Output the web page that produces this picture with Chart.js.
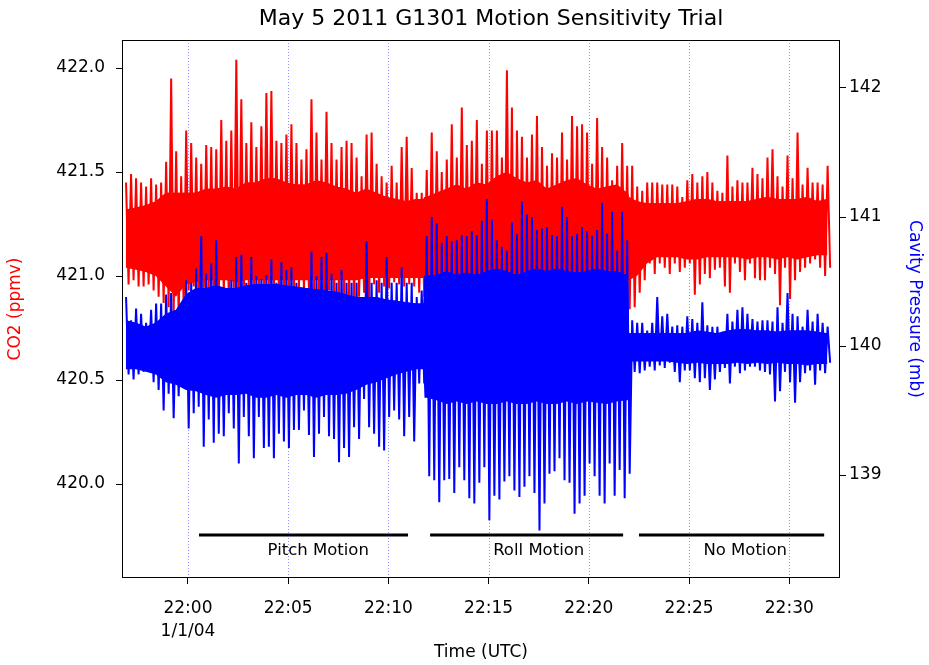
<!DOCTYPE html>
<html>
<head>
<meta charset="utf-8">
<script src="https://cdn.jsdelivr.net/npm/chart.js@4.4.1/dist/chart.umd.min.js"></script>
<style>
  html, body { margin: 0; padding: 0; background: #ffffff; }
  #wrap { width: 929px; height: 665px; }
</style>
</head>
<body>
<div id="wrap"><canvas id="c" width="929" height="665"></canvas></div>
<script>
// ---------- DATA ----------
// time in minutes after 22:00 UTC; one bin every 0.25 min, each bin holds the high and low excursion
const binStart = -3.15;
const binStep = 0.25;

const co2Hi = [
  421.45, 421.49, 421.47, 421.45, 421.43, 421.47, 421.44, 421.45, 421.55, 421.95, 421.60, 421.48,
  421.70, 421.64, 421.57, 421.54, 421.63, 421.62, 421.61, 421.75, 421.65, 421.70, 422.04, 421.85,
  421.64, 421.74, 421.62, 421.72, 421.88, 421.89, 421.65, 421.64, 421.68, 421.73, 421.64, 421.56,
  421.61, 421.85, 421.69, 421.56, 421.79, 421.64, 421.56, 421.62, 421.65, 421.64, 421.57, 421.48,
  421.68, 421.69, 421.54, 421.48, 421.45, 421.53, 421.45, 421.62, 421.67, 421.52, 421.40, 421.40,
  421.51, 421.69, 421.60, 421.50, 421.56, 421.73, 421.57, 421.81, 421.63, 421.65, 421.75, 421.54,
  421.70, 421.70, 421.70, 421.57, 421.99, 421.81, 421.70, 421.67, 421.57, 421.68, 421.77, 421.62,
  421.53, 421.59, 421.57, 421.69, 421.56, 421.77, 421.72, 421.73, 421.69, 421.54, 421.76, 421.62,
  421.57, 421.46, 421.53, 421.64, 421.53, 421.53, 421.43, 421.41, 421.45, 421.45, 421.45, 421.44,
  421.44, 421.44, 421.43, 421.38, 421.46, 421.49, 421.45, 421.48, 421.50, 421.45, 421.41, 421.40,
  421.58, 421.43, 421.46, 421.45, 421.45, 421.52, 421.49, 421.47, 421.57, 421.61, 421.48, 421.43,
  421.58, 421.47, 421.69, 421.44, 421.52, 421.45, 421.45, 421.44, 421.53
];
const co2Lo = [
  420.96, 420.98, 420.95, 420.95, 420.96, 420.93, 420.90, 420.87, 420.85, 420.82, 420.80, 420.84,
  420.93, 420.95, 420.92, 420.90, 420.93, 420.90, 420.88, 420.90, 420.88, 420.92, 420.90, 420.88,
  420.95, 420.90, 420.93, 420.92, 420.94, 420.90, 420.92, 420.93, 420.90, 420.92, 420.94, 420.92,
  420.92, 420.93, 420.92, 420.90, 420.93, 420.88, 420.90, 420.87, 420.89, 420.88, 420.90, 420.92,
  420.85, 420.96, 420.92, 420.95, 420.94, 420.97, 420.96, 420.95, 420.96, 420.95, 420.92, 420.90,
  420.90, 420.87, 420.92, 420.80, 420.90, 420.88, 420.90, 420.88, 420.90, 420.92, 420.72, 420.88,
  420.72, 420.85, 420.88, 420.90, 420.80, 420.55, 420.88, 420.90, 420.85, 420.90, 420.70, 420.88,
  420.90, 420.92, 420.88, 420.90, 420.92, 420.90, 420.88, 420.77, 420.90, 420.85, 420.88, 420.88,
  420.90, 420.90, 420.90, 420.90, 420.84, 420.85, 420.92, 420.98, 421.06, 421.01, 421.06, 421.04,
  421.01, 421.06, 421.02, 421.04, 421.06, 420.91, 420.96, 421.01, 420.99, 421.03, 421.04, 420.95,
  420.92, 421.06, 421.02, 420.98, 421.06, 420.99, 420.98, 420.98, 421.04, 421.01, 420.86, 421.04,
  420.89, 420.98, 421.02, 421.04, 421.06, 421.08, 421.04, 421.00, 421.04
];
const presHi = [
  140.38, 140.20, 140.29, 140.25, 140.18, 140.28, 140.33, 140.33, 140.40, 140.41, 140.28, 140.33,
  140.51, 140.49, 140.60, 140.85, 140.56, 140.64, 140.82, 140.43, 140.38, 140.51, 140.69, 140.71,
  140.49, 140.69, 140.54, 140.52, 140.55, 140.67, 140.49, 140.65, 140.59, 140.61, 140.49, 140.43,
  140.43, 140.73, 140.54, 140.69, 140.72, 140.56, 140.49, 140.59, 140.49, 140.49, 140.49, 140.38,
  140.81, 140.49, 140.51, 140.49, 140.69, 140.49, 140.49, 140.61, 140.49, 140.49, 140.38, 140.43,
  140.85, 141.00, 140.95, 140.80, 140.85, 140.81, 140.82, 140.86, 140.85, 140.89, 140.86, 140.97,
  141.14, 140.98, 140.82, 140.77, 140.74, 140.96, 140.87, 141.12, 141.02, 141.00, 140.90, 140.91,
  140.92, 140.86, 140.85, 141.08, 141.00, 140.85, 140.87, 140.92, 140.89, 140.85, 140.90, 141.11,
  140.87, 141.04, 140.74, 141.04, 140.82, 140.20, 140.18, 140.18, 140.12, 140.18, 140.38, 140.23,
  140.25, 140.15, 140.16, 140.15, 140.23, 140.21, 140.18, 140.34, 140.16, 140.15, 140.15, 140.11,
  140.25, 140.19, 140.28, 140.30, 140.25, 140.21, 140.19, 140.20, 140.20, 140.19, 140.30, 140.18,
  140.41, 140.25, 140.23, 140.15, 140.28, 140.19, 140.25, 140.18, 140.15
];
const presLo = [
  139.78, 139.74, 139.78, 139.80, 139.85, 139.72, 139.66, 139.50, 139.63, 139.44, 139.61, 139.68,
  139.36, 139.48, 139.53, 139.22, 139.43, 139.25, 139.32, 139.30, 139.48, 139.36, 139.09, 139.45,
  139.30, 139.13, 139.45, 139.21, 139.22, 139.13, 139.32, 139.26, 139.21, 139.35, 139.35, 139.50,
  139.31, 139.14, 139.32, 139.45, 139.30, 139.28, 139.10, 139.21, 139.14, 139.37, 139.28, 139.59,
  139.37, 139.32, 139.22, 139.19, 139.45, 139.50, 139.43, 139.30, 139.45, 139.26, 139.71, 139.71,
  138.99, 138.96, 138.79, 138.96, 138.97, 138.86, 139.06, 138.96, 138.82, 138.78, 138.94, 139.06,
  138.65, 138.84, 138.81, 138.95, 138.99, 138.88, 138.83, 138.91, 138.99, 138.86, 138.57, 138.78,
  139.01, 139.03, 139.13, 138.96, 138.94, 138.70, 138.78, 138.84, 139.09, 138.99, 138.84, 138.78,
  139.09, 138.84, 139.04, 138.82, 139.01, 139.80, 139.79, 139.81, 139.84, 139.81, 139.85, 139.83,
  139.87, 139.80, 139.72, 139.81, 139.81, 139.75, 139.72, 139.75, 139.66, 139.74, 139.80, 139.83,
  139.71, 139.84, 139.79, 139.81, 139.84, 139.84, 139.81, 139.80, 139.78, 139.57, 139.65, 139.80,
  139.72, 139.56, 139.72, 139.79, 139.81, 139.70, 139.81, 139.79, 139.87
];

// dense core of each trace (where the trace looks solid), read at these times
const coreTimes = [
  -3.1, -2.6, -2.1, -1.6, -1.1, -0.6,
  -0.1, 0.4, 0.9, 1.4, 1.9, 2.4,
  2.9, 3.4, 3.9, 4.4, 4.9, 5.4,
  5.9, 6.4, 6.9, 7.4, 7.9, 8.4,
  8.9, 9.4, 9.9, 10.4, 10.9, 11.4, 11.75, 11.8,
  11.9, 12.4, 12.9, 13.4, 13.9, 14.4,
  14.9, 15.4, 15.9, 16.4, 16.9, 17.4,
  17.9, 18.4, 18.9, 19.4, 19.9, 20.4,
  20.9, 21.4, 21.9, 21.95, 22.0, 22.4, 22.9, 23.4,
  23.9, 24.4, 24.9, 25.4, 25.9, 26.4,
  26.9, 27.4, 27.9, 28.4, 28.9, 29.4,
  29.9, 30.4, 30.9, 31.4, 31.9
];
const co2CoreHi = [
  421.32, 421.33, 421.34, 421.36, 421.40, 421.40,
  421.40, 421.40, 421.42, 421.42, 421.43, 421.42,
  421.45, 421.45, 421.47, 421.47, 421.45, 421.44,
  421.44, 421.46, 421.45, 421.43, 421.42, 421.40,
  421.42, 421.40, 421.38, 421.37, 421.36, 421.37, 421.37, 421.38,
  421.38, 421.40, 421.42, 421.44, 421.42, 421.45,
  421.44, 421.48, 421.50, 421.47, 421.45, 421.46,
  421.42, 421.44, 421.46, 421.47, 421.44, 421.42,
  421.43, 421.44, 421.40, 421.40, 421.38, 421.36, 421.35, 421.35,
  421.35, 421.35, 421.36, 421.37, 421.37, 421.36,
  421.36, 421.36, 421.36, 421.37, 421.38, 421.37,
  421.37, 421.37, 421.38, 421.36, 421.37
];
const co2CoreLo = [
  421.04, 421.03, 421.02, 421.00, 420.95, 420.90,
  420.96, 420.97, 420.98, 420.98, 420.98, 420.97,
  420.98, 420.98, 420.98, 420.98, 420.98, 420.98,
  420.98, 420.98, 420.98, 420.98, 420.98, 420.98,
  420.99, 420.99, 420.99, 420.99, 420.99, 420.99, 420.99, 420.98,
  420.98, 420.98, 420.98, 420.98, 420.98, 420.98,
  420.98, 420.98, 420.98, 420.98, 420.98, 420.98,
  420.98, 420.98, 420.98, 420.98, 420.98, 420.98,
  420.98, 420.98, 420.98, 420.98, 420.98, 421.00, 421.06, 421.09,
  421.09, 421.09, 421.08, 421.08, 421.09, 421.09,
  421.09, 421.09, 421.08, 421.09, 421.09, 421.08,
  421.09, 421.08, 421.09, 421.10, 421.10
];
const presCoreHi = [
  140.20, 140.18, 140.15, 140.18, 140.25, 140.28,
  140.40, 140.45, 140.45, 140.47, 140.45, 140.45,
  140.47, 140.48, 140.48, 140.48, 140.47, 140.46,
  140.45, 140.44, 140.43, 140.42, 140.40, 140.38,
  140.38, 140.38, 140.36, 140.35, 140.34, 140.33, 140.33, 140.55,
  140.55, 140.55, 140.58, 140.55, 140.57, 140.55,
  140.58, 140.60, 140.58, 140.55, 140.58, 140.60,
  140.58, 140.60, 140.58, 140.57, 140.58, 140.60,
  140.58, 140.58, 140.55, 140.55, 140.10, 140.10, 140.10, 140.10,
  140.10, 140.10, 140.10, 140.12, 140.11, 140.10,
  140.12, 140.13, 140.13, 140.12, 140.12, 140.11,
  140.12, 140.12, 140.12, 140.11, 140.10
];
const presCoreLo = [
  139.82, 139.82, 139.80, 139.78, 139.72, 139.70,
  139.66, 139.65, 139.62, 139.60, 139.62, 139.62,
  139.63, 139.60, 139.60, 139.62, 139.60, 139.62,
  139.62, 139.60, 139.62, 139.62, 139.63, 139.66,
  139.70, 139.72, 139.75, 139.78, 139.80, 139.82, 139.82, 139.60,
  139.60, 139.58, 139.55, 139.57, 139.55, 139.57,
  139.55, 139.55, 139.57, 139.55, 139.55, 139.57,
  139.55, 139.55, 139.57, 139.55, 139.57, 139.56,
  139.55, 139.57, 139.58, 139.58, 139.88, 139.88, 139.88, 139.88,
  139.88, 139.87, 139.86, 139.87, 139.86, 139.86,
  139.86, 139.87, 139.86, 139.87, 139.86, 139.87,
  139.86, 139.86, 139.85, 139.86, 139.86
];

// motion phases (minutes after 22:00)
const phaseNames = ["Pitch Motion", "Roll Motion", "No Motion"];
const phaseStart = [0.55, 12.08, 22.5];
const phaseEnd   = [10.98, 21.71, 31.74];
const phaseLabelAt = [6.5, 17.5, 27.8];

// ticks
const timeTickValues = [0, 5, 10, 15, 20, 25, 30];
const timeTickLabels = [["22:00", "1/1/04"], "22:05", "22:10", "22:15", "22:20", "22:25", "22:30"];
const co2TickValues = [420.0, 420.5, 421.0, 421.5, 422.0];
const co2TickLabels = ["420.0", "420.5", "421.0", "421.5", "422.0"];
const presTickValues = [139, 140, 141, 142];
const presTickLabels = ["139", "140", "141", "142"];

// ---------- BUILD ----------
function zigzag(hi, lo) {
  const pts = [];
  for (let i = 0; i < hi.length; i++) {
    const t = binStart + i * binStep;
    pts.push({ x: t + binStep * 0.25, y: hi[i] });
    pts.push({ x: t + binStep * 0.75, y: lo[i] });
  }
  return pts;
}
function series(vals) {
  return vals.map((v, i) => ({ x: coreTimes[i], y: v }));
}

const FONT = "DejaVu Sans";
Chart.defaults.font.family = FONT;
Chart.defaults.color = "#000";

const BAR_Y = 419.755;   // level of the phase bars on the CO2 axis
const LABEL_Y = 419.68;  // level of the phase labels on the CO2 axis

const RED = "#ff0000", BLUE = "#0000ff";
const datasets = [
  { label: "CO2 core", data: series(co2CoreHi), yAxisID: "yC", fill: "+1",
    backgroundColor: RED, borderWidth: 0, pointRadius: 0, order: 6 },
  { label: "CO2 core low", data: series(co2CoreLo), yAxisID: "yC", fill: false,
    borderWidth: 0, pointRadius: 0, order: 7 },
  { label: "CO2", data: zigzag(co2Hi, co2Lo), yAxisID: "yC", fill: 0,
    backgroundColor: RED, borderColor: RED, borderWidth: 2, pointRadius: 0,
    borderJoinStyle: "bevel", order: 5 },
  { label: "Pressure core", data: series(presCoreHi), yAxisID: "yP", fill: "+1",
    backgroundColor: BLUE, borderWidth: 0, pointRadius: 0, order: 3 },
  { label: "Pressure core low", data: series(presCoreLo), yAxisID: "yP", fill: false,
    borderWidth: 0, pointRadius: 0, order: 4 },
  { label: "Cavity Pressure", data: zigzag(presHi, presLo), yAxisID: "yP", fill: 3,
    backgroundColor: BLUE, borderColor: BLUE, borderWidth: 2, pointRadius: 0,
    borderJoinStyle: "bevel", order: 2 }
];
for (let i = 0; i < phaseNames.length; i++) {
  datasets.push({
    label: phaseNames[i], data: [{ x: phaseStart[i], y: BAR_Y }, { x: phaseEnd[i], y: BAR_Y }],
    yAxisID: "yC", borderColor: "#000", borderWidth: 3, pointRadius: 0, fill: false, order: 0
  });
}

const decor = {
  id: "decor",
  beforeDatasetsDraw(chart) {
    const { ctx, chartArea: a } = chart;
    const xs = chart.scales.x;
    ctx.save();
    ctx.strokeStyle = "rgba(110,110,255,0.75)";
    ctx.lineWidth = 1;
    ctx.setLineDash([1, 2]);
    timeTickValues.forEach(v => {
      const px = Math.round(xs.getPixelForValue(v)) + 0.5;
      ctx.beginPath();
      ctx.moveTo(px, a.top);
      ctx.lineTo(px, a.bottom);
      ctx.stroke();
    });
    ctx.restore();
  },
  afterDraw(chart) {
    const { ctx, chartArea: a } = chart;
    const xs = chart.scales.x, yc = chart.scales.yC;
    ctx.save();
    ctx.strokeStyle = "#000";
    ctx.lineWidth = 1;
    ctx.strokeRect(Math.round(a.left) + 0.5, Math.round(a.top) + 0.5,
                   Math.round(a.right - a.left) - 1, Math.round(a.bottom - a.top) - 1);
    ctx.fillStyle = "#000";
    ctx.font = "16.5px '" + FONT + "'";
    ctx.textAlign = "center";
    ctx.textBaseline = "middle";
    phaseNames.forEach((n, i) => {
      ctx.fillText(n, xs.getPixelForValue(phaseLabelAt[i]), yc.getPixelForValue(LABEL_Y));
    });
    ctx.font = "22px '" + FONT + "'";
    ctx.fillText("May 5 2011 G1301 Motion Sensitivity Trial", 491, 19);
    ctx.restore();
  }
};

new Chart(document.getElementById("c"), {
  type: "line",
  data: { datasets },
  plugins: [decor],
  options: {
    responsive: false,
    animation: false,
    layout: { padding: { top: 40, left: 0, right: 0, bottom: 0 } },
    plugins: {
      legend: { display: false }, tooltip: { enabled: false }, title: { display: false },
      filler: { propagate: false }
    },
    scales: {
      x: {
        type: "linear", position: "bottom", min: -3.29, max: 32.53,
        afterBuildTicks: s => { s.ticks = timeTickValues.map(v => ({ value: v })); },
        afterFit: s => { s.height = 87; },
        ticks: {
          autoSkip: false, maxRotation: 0, padding: 13, color: "#000",
          font: { size: 17, lineHeight: 1.35 },
          callback: (v, i) => timeTickLabels[i]
        },
        grid: { drawOnChartArea: false, drawTicks: true, tickLength: 6, tickColor: "#000" },
        border: { display: false },
        title: { display: true, text: "Time (UTC)", color: "#000", font: { size: 17 }, padding: { top: 0, bottom: 2 } }
      },
      yC: {
        type: "linear", position: "left", min: 419.548, max: 422.135,
        afterBuildTicks: s => { s.ticks = co2TickValues.map(v => ({ value: v })); },
        afterFit: s => { s.width = 122; },
        ticks: { padding: 11, color: "#000", font: { size: 17 }, callback: (v, i) => co2TickLabels[i] },
        grid: { drawOnChartArea: false, drawTicks: true, tickLength: 6, tickColor: "#000" },
        border: { display: false },
        title: { display: true, text: "CO2 (ppmv)", color: RED, font: { size: 17 }, padding: { top: 5, bottom: 0 } }
      },
      yP: {
        type: "linear", position: "right", min: 138.202, max: 142.372,
        afterBuildTicks: s => { s.ticks = presTickValues.map(v => ({ value: v })); },
        afterFit: s => { s.width = 89; },
        ticks: { padding: 3, color: "#000", font: { size: 17 }, callback: (v, i) => presTickLabels[i] },
        grid: { drawOnChartArea: false, drawTicks: true, tickLength: 6, tickColor: "#000" },
        border: { display: false },
        title: { display: true, text: "Cavity Pressure (mb)", color: BLUE, font: { size: 17 }, padding: { top: 4, bottom: 0 } }
      }
    }
  }
});
</script>
</body>
</html>
